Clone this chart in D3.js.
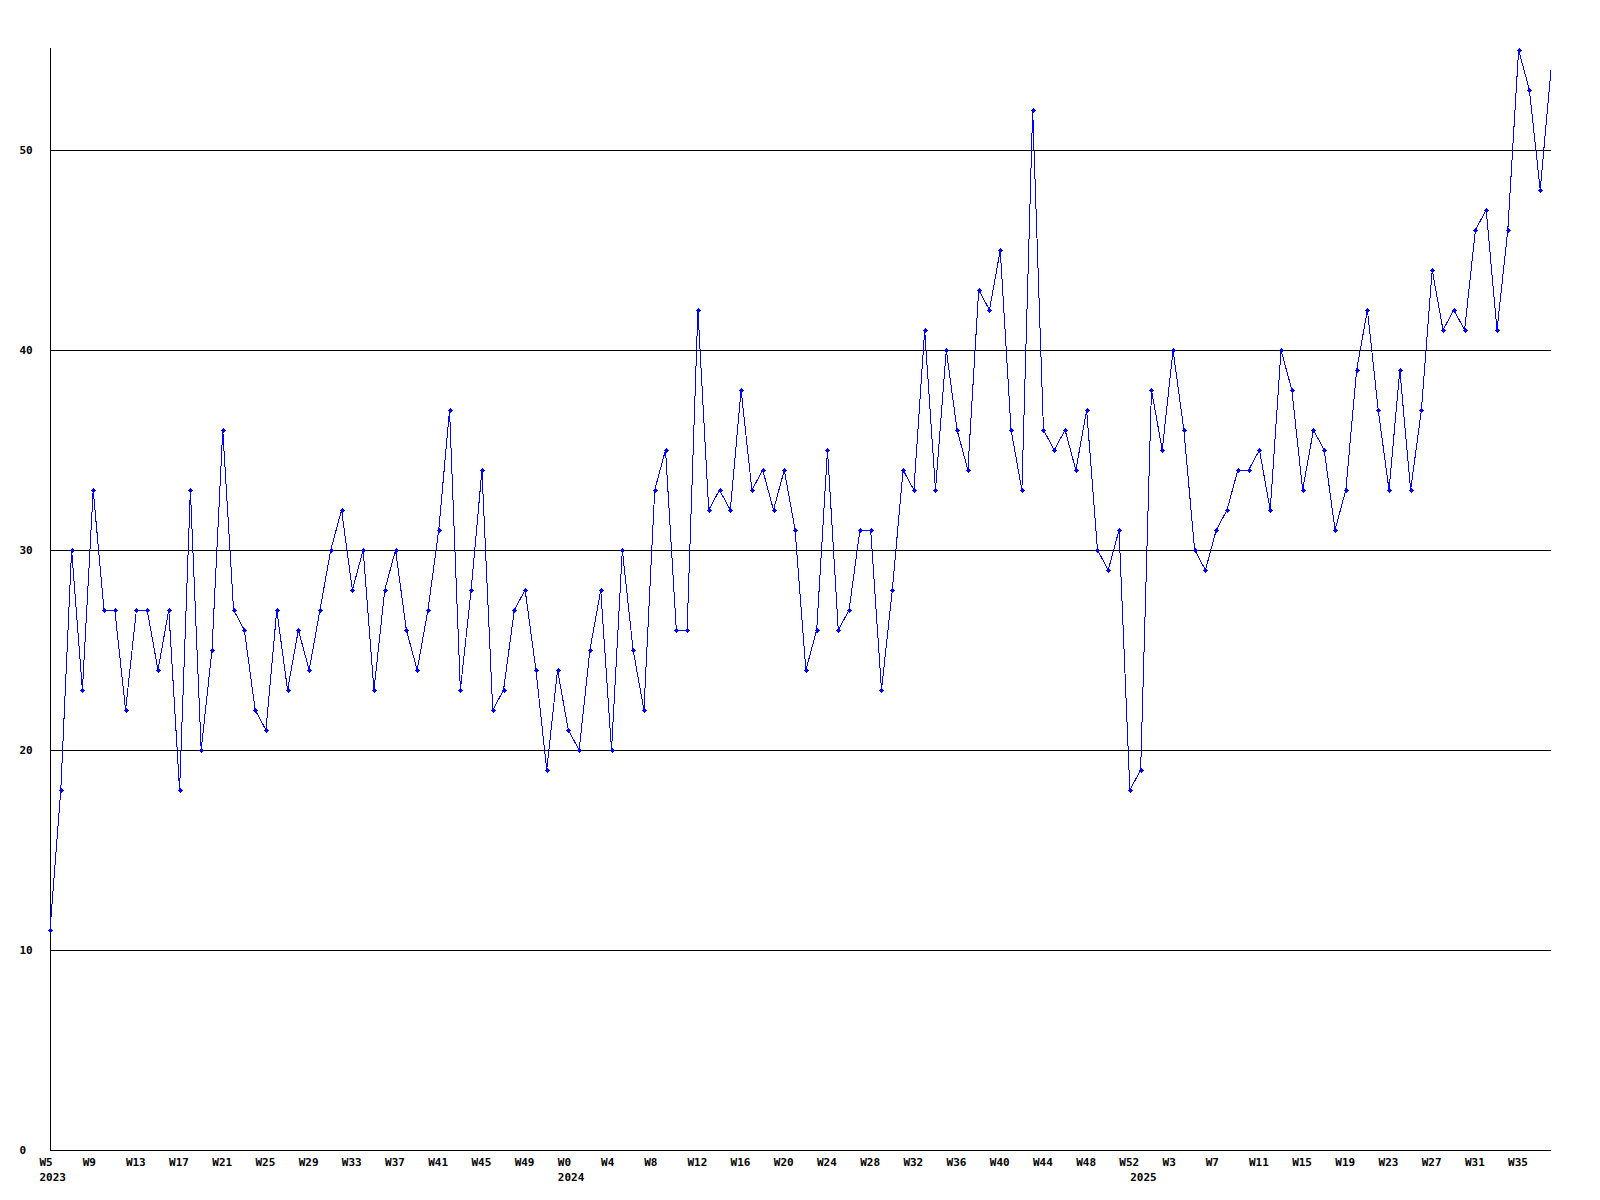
<!DOCTYPE html>
<html>
<head>
<meta charset="utf-8">
<script src="https://cdn.jsdelivr.net/npm/d3@7"></script>
<style>
  body { margin: 0; background: #fff; }
  text { font-family: 'DejaVu Sans Mono', monospace; font-weight: bold; font-size: 11px; }
</style>
</head>
<body>
<div id="main"></div>
<script>
// first and last week number shown for each year
var years = ['2023', '2024', '2025']
var yearWeeks = [[5, 52], [0, 52], [0, 38]]

// weekly counts, one per week in order
var values = [
  11, 18, 30, 23, 33, 27, 27, 22, 27, 27, 24, 27, 18, 33, 20, 25, 36, 27, 26, 22,
  21, 27, 23, 26, 24, 27, 30, 32, 28, 30, 23, 28, 30, 26, 24, 27, 31, 37, 23, 28,
  34, 22, 23, 27, 28, 24, 19, 24,
  21, 20, 25, 28, 20, 30, 25, 22, 33, 35, 26, 26, 42, 32, 33, 32, 38, 33, 34, 32,
  34, 31, 24, 26, 35, 26, 27, 31, 31, 23, 28, 34, 33, 41, 33, 40, 36, 34, 43, 42,
  45, 36, 33, 52, 36, 35, 36, 34, 37, 30, 29, 31, 18,
  19, 38, 35, 40, 36, 30, 29, 31, 32, 34, 34, 35, 32, 40, 38, 33, 36, 35, 31, 33,
  39, 42, 37, 33, 39, 33, 37, 44, 41, 42, 41, 46, 47, 41, 46, 55, 53, 48, 54
]

var yTicks = [0, 10, 20, 30, 40, 50]
var tickEvery = 4

var weeks = []
years.forEach(function (y, i) {
  for (var w = yearWeeks[i][0]; w <= yearWeeks[i][1]; w++) {
    weeks.push({ year: y, label: 'W' + w, key: y + '-W' + w, first: w === yearWeeks[i][0] })
  }
})
var points = weeks.map(function (w, i) { return { week: w, value: values[i], i: i } })

var svgWidth = 1600
var svgHeight = 1200
var plotLeft = 50, plotRight = 1551, plotTop = 50, plotBottom = 1150

var x = d3.scalePoint()
  .domain(weeks.map(_ => _.key))
  .range([plotLeft, plotRight])

var y = d3.scaleLinear()
  .domain([0, 55])
  .range([plotBottom, plotTop])

var main = d3.select('#main')
  .append('svg')
  .attr('width', svgWidth)
  .attr('height', svgHeight)

main.append('rect')
  .attr('width', svgWidth)
  .attr('height', svgHeight)
  .attr('fill', '#fff')

// horizontal grid
main.selectAll('line.grid')
  .data(yTicks.filter(_ => _ > 0))
  .enter()
  .append('line')
    .attr('class', 'grid')
    .attr('x1', plotLeft)
    .attr('x2', plotRight)
    .attr('y1', _ => Math.round(y(_)) + 0.5)
    .attr('y2', _ => Math.round(y(_)) + 0.5)
    .attr('stroke', '#000')
    .attr('shape-rendering', 'crispEdges')

// axes
main.append('line')
  .attr('x1', plotLeft + 0.5).attr('x2', plotLeft + 0.5)
  .attr('y1', plotTop - 2).attr('y2', plotBottom + 1)
  .attr('stroke', '#000')
  .attr('shape-rendering', 'crispEdges')

main.append('line')
  .attr('x1', plotLeft).attr('x2', plotRight)
  .attr('y1', plotBottom + 0.5).attr('y2', plotBottom + 0.5)
  .attr('stroke', '#000')
  .attr('shape-rendering', 'crispEdges')

main.selectAll('text.ylab')
  .data(yTicks)
  .enter()
  .append('text')
    .attr('class', 'ylab')
    .attr('x', 19.5)
    .attr('y', _ => y(_) + 4)
    .text(_ => _)

main.selectAll('text.xlab')
  .data(weeks.filter((_, i) => i % tickEvery === 0))
  .enter()
  .append('text')
    .attr('class', 'xlab')
    .attr('x', _ => x(_.key) - 10.5)
    .attr('y', plotBottom + 16)
    .text(_ => _.label)

main.selectAll('text.year')
  .data(weeks.filter(_ => _.first))
  .enter()
  .append('text')
    .attr('class', 'year')
    .attr('x', _ => x(_.key) - 10.5)
    .attr('y', plotBottom + 31)
    .text(_ => _.year)

var line = d3.line()
  .x(_ => x(_.week.key))
  .y(_ => y(_.value))

main.append('path')
  .datum(points)
  .attr('d', line)
  .attr('fill', 'none')
  .attr('stroke', '#0000ff')
  .attr('stroke-width', 1)
  .attr('shape-rendering', 'crispEdges')

// small diamond markers (the last one sits on the frame edge and is not shown)
var marks = main.selectAll('g.mark')
  .data(points.slice(0, -1))
  .enter()
  .append('g')
    .attr('class', 'mark')
    .attr('transform', _ => `translate(${Math.round(x(_.week.key))}, ${Math.round(y(_.value))})`)
    .attr('fill', '#0000ff')
    .attr('shape-rendering', 'crispEdges')

marks.append('rect').attr('x', -2).attr('y', 0).attr('width', 5).attr('height', 1)
marks.append('rect').attr('x', 0).attr('y', -2).attr('width', 1).attr('height', 5)
marks.append('rect').attr('x', -1).attr('y', -1).attr('width', 3).attr('height', 3)
</script>
</body>
</html>
